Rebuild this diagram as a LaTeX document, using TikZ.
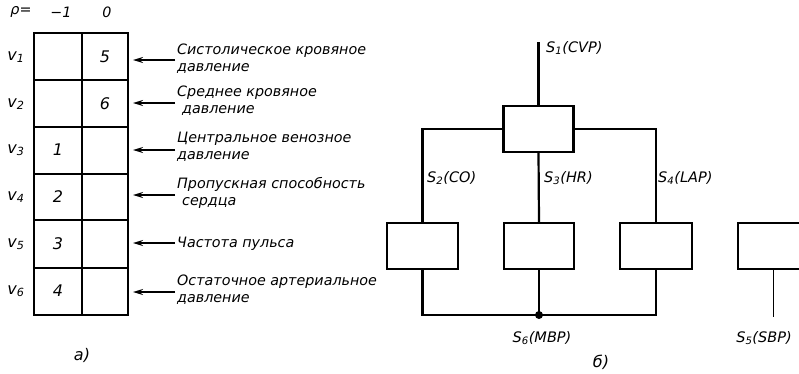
\documentclass[tikz,border=0pt]{standalone}
\usepackage{fontspec}
\setmainfont{DejaVu Sans}
\usetikzlibrary{arrows.meta}
\begin{document}
\begin{tikzpicture}[x=1pt,y=-1pt,
  txt/.style={font=\fontsize{14.3}{17}\selectfont\itshape, inner sep=0pt},
  lbl/.style={txt, anchor=west, align=left},
  sm/.style={font=\fontsize{14.5}{17}\selectfont\itshape, inner sep=0pt},
  big/.style={font=\fontsize{16}{17}\selectfont\itshape, inner sep=0pt},
  tbl/.style={line width=2.6pt},
  arr/.style={line width=2pt, -{Stealth[length=10pt,width=6pt]}},
  blk/.style={draw, line width=2.4pt, minimum width=70pt, minimum height=46pt, inner sep=0pt},
  wire/.style={line width=2.2pt}]
\useasboundingbox (0,0) rectangle (799,373);
\clip (0,0) rectangle (799,373);
% ---- a) table
\node[txt] (rho) at (21,12) {ρ=};
\node[txt] (hm1) at (61,12) {−1};
\node[txt] (h0) at (107,12) {0};
\draw[tbl] (34,33) rectangle (128,315);
\draw[tbl] (82,33) -- (82,315);
\foreach \y in {80,127,174,220,268} \draw[tbl] (34,\y) -- (128,\y);
\foreach \i/\y in {1/57,2/104,3/150,4/197,5/244,6/291}
  \node[big] (v\i) at (16,\y) {v\textsubscript{\i}};
\node[big] (n5) at (105,57) {5};
\node[big] (n6) at (105,104) {6};
\node[big] (n1) at (58,150) {1};
\node[big] (n2) at (58,197) {2};
\node[big] (n3) at (58,244) {3};
\node[big] (n4) at (58,291) {4};
% labels
\node[lbl] (t1) at (177,59) {Систолическое кровяное\\давление};
\node[lbl] (t2) at (177,101) {Среднее кровяное\\\hspace{5pt}давление};
\node[lbl] (t3) at (177,147) {Центральное венозное\\давление};
\node[lbl] (t4) at (177,193) {Пропускная способность\\\hspace{5pt}сердца};
\node[lbl] (t5) at (177,244) {Частота пульса};
\node[lbl] (t6) at (177,290) {Остаточное артериальное\\давление};
\foreach \i/\y in {1/60,2/103,3/150,4/195,5/243,6/292}{
  \coordinate (a\i) at (133,\y);
  \draw[arr] ([xshift=-2pt]t\i.west |- a\i) -- (a\i);
}
\node[big] (capa) at (82,355) {а)};
% ---- б) structure
\node[blk] (top) at (538.5,129) {};
\node[blk, minimum width=71pt] (b1) at (422.5,246) {};
\node[blk] (b2) at (539,246) {};
\node[blk, minimum width=72pt] (b3) at (656,246) {};
\node[blk, minimum width=71pt] (b4) at (773.5,246) {};
\coordinate (s1end) at (538.5,42);
\coordinate (dot) at (539,315);
\coordinate (s5end) at (773.5,317);
\draw[wire] (s1end) -- (top.north);
\draw[wire] (top.west) -| (b1.north);
\draw[wire] (top.east) -| (b3.north);
\draw[wire] (top.south) -- (b2.north);
\draw[wire] (b1.south) |- (dot);
\draw[wire] (b3.south) |- (dot);
\draw[wire] (b2.south) -- (dot);
\fill (dot) circle (4pt);
\draw[line width=1.8pt] (b4.south) -- (s5end);
\node[sm, anchor=west] (l1) at (546,48) {S\textsubscript{1}(CVP)};
\node[sm, anchor=west] (l2) at (427,178) {S\textsubscript{2}(CO)};
\node[sm, anchor=west] (l3) at (544,178) {S\textsubscript{3}(HR)};
\node[sm, anchor=west] (l4) at (658,178) {S\textsubscript{4}(LAP)};
\node[sm] (l6) at (542,338) {S\textsubscript{6}(MBP)};
\node[sm] (l5) at (764,338) {S\textsubscript{5}(SBP)};
\node[big] (capb) at (601,362) {б)};
\end{tikzpicture}
\end{document}
